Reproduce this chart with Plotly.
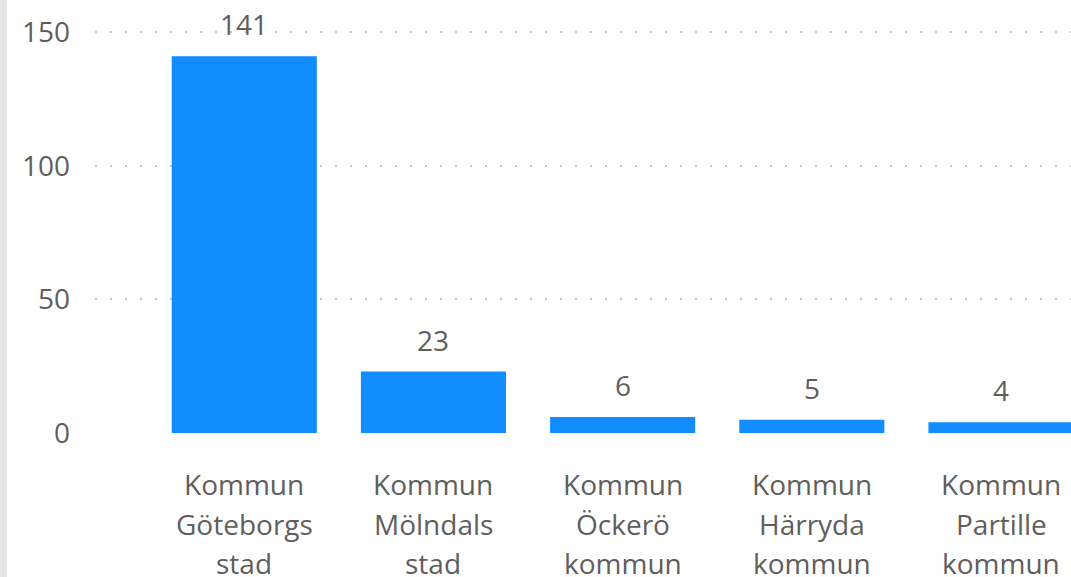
import plotly.graph_objects as go

# Data
categories = ["Kommun Göteborgs stad", "Kommun Mölndals stad", "Kommun Öckerö kommun",
              "Kommun Härryda kommun", "Kommun Partille kommun"]
label_lines = [["Kommun", "Göteborgs", "stad"],
               ["Kommun", "Mölndals", "stad"],
               ["Kommun", "Öckerö", "kommun"],
               ["Kommun", "Härryda", "kommun"],
               ["Kommun", "Partille", "kommun"]]
values = [141, 23, 6, 5, 4]
y_ticks = [0, 50, 100, 150]

W, H = 1071, 577
ML, MR, MT, MB = 95, 0, 0, 144
plot_w = W - ML - MR
plot_h = H - MT - MB

BAR = "#118DFF"
TXT = "#605E5C"
FONT = "Open Sans, DejaVu Sans, sans-serif"

x_idx = list(range(len(categories)))

fig = go.Figure()
fig.add_trace(go.Bar(x=x_idx, y=values, marker=dict(color=BAR, line=dict(width=0)),
                     hoverinfo="skip", cliponaxis=False))

ann = []
for i, v in zip(x_idx, values):
    ann.append(dict(x=i, y=v, xref="x", yref="y", text=str(v), showarrow=False,
                    yanchor="middle", yshift=32, font=dict(size=28, color=TXT, family=FONT)))
for i, lines in zip(x_idx, label_lines):
    for j, t in enumerate(lines):
        ann.append(dict(x=i, y=0, xref="x", yref="y", text=t, showarrow=False,
                        yanchor="middle", yshift=-(51 + 39.5 * j),
                        font=dict(size=28, color=TXT, family=FONT)))

fig.update_layout(
    width=W, height=H,
    margin=dict(l=ML, r=MR, t=MT, b=MB, pad=0),
    paper_bgcolor="white", plot_bgcolor="white",
    showlegend=False,
    bargap=0.233,
    annotations=ann,
    shapes=[dict(type="rect", xref="paper", yref="paper",
                 x0=-ML / plot_w, x1=(7 - ML) / plot_w,
                 y0=-MB / plot_h, y1=1 + MT / plot_h,
                 fillcolor="#E6E6E6", line=dict(width=0), layer="below")],
)
fig.update_xaxes(range=[-0.789, 4.370], showticklabels=False, showgrid=False,
                 zeroline=False, showline=False, ticks="", tickvals=x_idx)
fig.update_yaxes(range=[0, plot_h / 2.672], tickvals=y_ticks,
                 ticktext=[str(t) for t in y_ticks],
                 showgrid=True, gridcolor="#C8C6C4", gridwidth=1.5, griddash="2px,13px",
                 zeroline=False, showline=False, ticks="",
                 ticklabelstandoff=24,
                 tickfont=dict(size=28, color=TXT, family=FONT))

fig.write_html("out.html", config={"displayModeBar": False},
               post_script="document.body.style.margin='0';document.body.style.overflow='hidden';")
